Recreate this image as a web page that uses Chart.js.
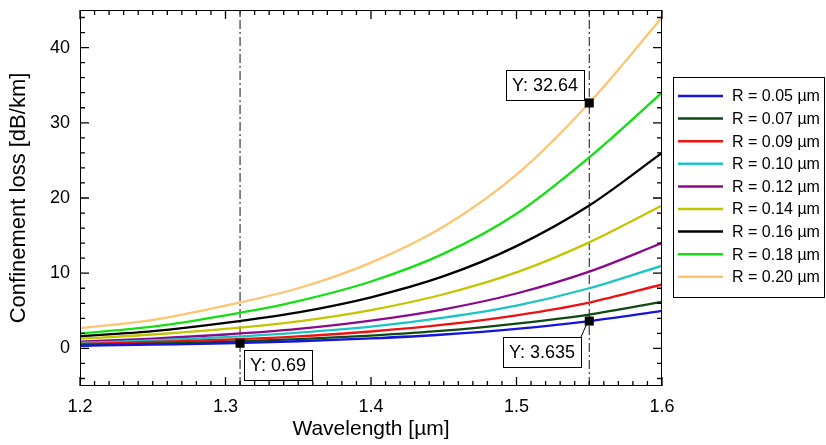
<!DOCTYPE html>
<html>
<head>
<meta charset="utf-8">
<script src="https://cdn.jsdelivr.net/npm/chart.js@4.4.1/dist/chart.umd.min.js"></script>
<style>
    html, body { margin: 0; padding: 0; background: #fff; }
    canvas { display: block; }
</style>
</head>
<body>
<canvas id="loss" width="826" height="445"></canvas>
<script>
// wavelength samples [µm]
const wavelengths = [1.20, 1.25, 1.30, 1.35, 1.40, 1.45, 1.50, 1.55, 1.60];

// confinement loss [dB/km]
const r005 = [0.35, 0.50, 0.66, 0.95, 1.33, 1.85, 2.60, 3.635, 5.0];
const r007 = [0.45, 0.63, 0.88, 1.22, 1.70, 2.35, 3.30, 4.50, 6.2];
const r009 = [0.60, 0.85, 1.15, 1.60, 2.25, 3.15, 4.40, 6.10, 8.5];
const r010 = [0.75, 1.05, 1.50, 2.10, 2.90, 4.10, 5.70, 8.00, 11.0];
const r012 = [0.90, 1.30, 1.85, 2.60, 3.70, 5.20, 7.30, 10.2, 14.0];
const r014 = [1.30, 1.85, 2.60, 3.60, 5.10, 7.20, 10.1, 14.1, 19.0];
const r016 = [1.60, 2.30, 3.40, 4.80, 6.80, 9.60, 13.6, 19.0, 26.0];
const r018 = [2.00, 2.90, 4.40, 6.30, 8.90, 12.6, 17.9, 25.4, 34.0];
const r020 = [2.70, 3.80, 5.70, 8.00, 11.4, 16.2, 23.1, 32.64, 44.0];

const radii = ['0.05', '0.07', '0.09', '0.10', '0.12', '0.14', '0.16', '0.18', '0.20'];
const series = [r005, r007, r009, r010, r012, r014, r016, r018, r020];
const colors = ['#1414dc', '#0f4a14', '#ee1111', '#1cc4c4', '#8a0a8a', '#c4c400', '#000000', '#12e012', '#ffc470'];

// data cursors
const cursorX = [1.31, 1.55];
const markerX = [1.31, 1.55, 1.55];
const markerY = [0.69, 32.64, 3.635];

const xTicks = [1.2, 1.3, 1.4, 1.5, 1.6];
const yTicks = [0, 10, 20, 30, 40];
const xRange = [1.2, 1.6];
const yRange = [-5, 45];
const xMinorStep = 0.01;
const yMinorStep = 2;

const FONT = "'Liberation Sans', Arial, sans-serif";
Chart.defaults.font.family = FONT;
Chart.defaults.color = '#000';

// label box placement relative to each marker
const labelPlacement = [
    { dx: 4, dy: 7, anchor: 'left' },
    { dx: -5, dy: -33, anchor: 'right' },
    { dx: -8, dy: 16, anchor: 'right', leader: true },
];

const curveSets = series.map((s, i) => ({
    label: `R = ${radii[i]} \u00b5m`,
    data: wavelengths.map((x, j) => ({ x, y: s[j] })),
    borderColor: colors[i],
    backgroundColor: colors[i],
    borderWidth: 2.3,
    pointRadius: 0,
    cubicInterpolationMode: 'monotone',
    inLegend: true,
    order: 2,
}));

const cursorSets = cursorX.map((cx) => ({
    label: 'cursor',
    data: [{ x: cx, y: yRange[0] }, { x: cx, y: yRange[1] }],
    borderColor: '#111',
    borderWidth: 1,
    borderDash: [9, 3, 2, 3],
    pointRadius: 0,
    order: 5,
}));

const markerSet = {
    label: 'markers',
    data: markerX.map((x, i) => ({ x, y: markerY[i] })),
    showLine: false,
    pointStyle: 'rect',
    pointRadius: 6.4,
    pointBorderWidth: 0,
    backgroundColor: '#000',
    borderColor: '#000',
    order: 0,
};

// inward tick marks on all four sides of the plot
const tickMarks = {
    id: 'tickMarks',
    afterDatasetsDraw(chart) {
        const { ctx, chartArea: a, scales } = chart;
        const xs = scales.x;
        const ys = scales.y;
        ctx.save();
        ctx.strokeStyle = '#000';
        ctx.lineWidth = 1.3;
        ctx.beginPath();
        const nx = Math.round((xRange[1] - xRange[0]) / xMinorStep);
        for (let i = 0; i <= nx; i++) {
            const px = xs.getPixelForValue(xRange[0] + i * xMinorStep);
            const len = (i % 10 === 0) ? 9 : 5;
            ctx.moveTo(px, a.bottom);
            ctx.lineTo(px, a.bottom - len);
            ctx.moveTo(px, a.top);
            ctx.lineTo(px, a.top + len);
        }
        const ny = Math.round((yRange[1] - yRange[0]) / yMinorStep);
        for (let i = 0; i <= ny; i++) {
            const v = yRange[0] + 1 + i * yMinorStep;
            if (v > yRange[1]) break;
            const py = ys.getPixelForValue(v);
            const len = yTicks.includes(v) ? 9 : 5;
            ctx.moveTo(a.left, py);
            ctx.lineTo(a.left + len, py);
            ctx.moveTo(a.right, py);
            ctx.lineTo(a.right - len, py);
        }
        ctx.stroke();
        ctx.restore();
    },
};

const decor = {
    id: 'decor',
    afterDraw(chart) {
        const { ctx, chartArea: a } = chart;
        ctx.save();
        ctx.strokeStyle = '#000';
        ctx.lineWidth = 1;

        // frame
        ctx.strokeRect(a.left + 0.5, a.top + 0.5, a.right - a.left - 1, a.bottom - a.top - 1);

        // cursor value boxes
        const markerIndex = chart.data.datasets.indexOf(markerSet);
        const points = chart.getDatasetMeta(markerIndex).data;
        ctx.font = `18px ${FONT}`;
        ctx.textBaseline = 'middle';
        ctx.textAlign = 'left';
        points.forEach((p, i) => {
            const place = labelPlacement[i];
            const text = `Y: ${markerY[i]}`;
            const w = Math.round(ctx.measureText(text).width) + 12;
            const h = 30;
            const left = Math.round(place.anchor === 'left' ? p.x + place.dx : p.x + place.dx - w);
            const top = Math.round(p.y + place.dy);
            ctx.fillStyle = '#fff';
            ctx.fillRect(left, top, w, h);
            ctx.strokeRect(left + 0.5, top + 0.5, w, h);
            ctx.fillStyle = '#000';
            ctx.fillText(text, left + 6, top + h / 2 + 1);
            if (place.leader) {
                ctx.beginPath();
                ctx.moveTo(left + w, top);
                ctx.lineTo(p.x - 3, p.y + 4);
                ctx.stroke();
            }
        });

        // legend
        const items = chart.data.datasets.filter((d) => d.inLegend);
        const lx = a.right + 11;
        const ly = 77;
        const lw = 151;
        const rowH = 22.6;
        ctx.fillStyle = '#fff';
        ctx.fillRect(lx, ly, lw, 220);
        ctx.strokeStyle = '#000';
        ctx.lineWidth = 1;
        ctx.strokeRect(lx + 0.5, ly + 0.5, lw, 220);
        ctx.font = `16px ${FONT}`;
        items.forEach((d, i) => {
            const cy = ly + 19 + i * rowH;
            ctx.strokeStyle = d.borderColor;
            ctx.lineWidth = 2.5;
            ctx.beginPath();
            ctx.moveTo(lx + 5, cy);
            ctx.lineTo(lx + 50, cy);
            ctx.stroke();
            ctx.fillStyle = '#000';
            ctx.fillText(d.label, lx + 59, cy + 1);
        });
        ctx.restore();
    },
};

new Chart(document.getElementById('loss'), {
    type: 'line',
    data: { datasets: [markerSet, ...curveSets, ...cursorSets] },
    options: {
        responsive: false,
        animation: false,
        layout: { padding: { top: 10, right: 164, left: 0, bottom: 0 } },
        plugins: {
            legend: { display: false },
            tooltip: { enabled: false },
        },
        scales: {
            x: {
                type: 'linear',
                min: xRange[0],
                max: xRange[1],
                afterBuildTicks: (s) => { s.ticks = xTicks.map((value) => ({ value })); },
                afterFit: (s) => { s.height = 59; s.paddingLeft = 0; s.paddingRight = 0; },
                grid: { display: false, drawTicks: false },
                border: { display: false },
                ticks: {
                    padding: 10,
                    font: { size: 18 },
                    color: '#000',
                    maxRotation: 0,
                    callback: (v) => Number(v).toFixed(1),
                },
                title: {
                    display: true,
                    text: 'Wavelength [\u00b5m]',
                    font: { size: 21 },
                    color: '#000',
                    padding: { top: 0, bottom: 3 },
                },
            },
            y: {
                min: yRange[0],
                max: yRange[1],
                afterBuildTicks: (s) => { s.ticks = yTicks.map((value) => ({ value })); },
                afterFit: (s) => { s.width = 80; s.paddingTop = 0; s.paddingBottom = 0; },
                grid: { display: false, drawTicks: false },
                border: { display: false },
                ticks: {
                    padding: 10,
                    font: { size: 18 },
                    color: '#000',
                },
                title: {
                    display: true,
                    text: 'Confinement loss [dB/km]',
                    font: { size: 22 },
                    color: '#000',
                    padding: { top: 6, bottom: 0 },
                },
            },
        },
    },
    plugins: [tickMarks, decor],
});
</script>
</body>
</html>
